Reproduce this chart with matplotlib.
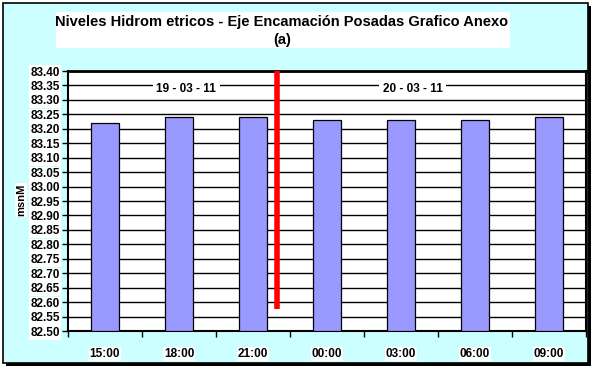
import matplotlib
matplotlib.use("Agg")
import matplotlib.pyplot as plt
from matplotlib.patches import Rectangle

categories = ["15:00", "18:00", "21:00", "00:00", "03:00", "06:00", "09:00"]
levels = [83.22, 83.24, 83.24, 83.23, 83.23, 83.23, 83.24]
y_ticks = [82.50 + 0.05 * i for i in range(19)]
date_labels = ["19 - 03 - 11", "20 - 03 - 11"]
date_label_x = [1.10, 4.16]
date_label_y = 83.338
day_change_x = 2.33
day_change_range = [82.575, 83.40]

plt.rcParams['font.family'] = ['Liberation Sans', 'DejaVu Sans']

W, H = 595, 373
fig = plt.figure(figsize=(W / 100, H / 100), dpi=100)
fig.patch.set_facecolor('white')

# frame with shadow
fig.patches.append(Rectangle((6 / W, (H - 366) / H), 585 / W, 360 / H,
                             transform=fig.transFigure, facecolor='black',
                             edgecolor='none', zorder=-3))
fig.patches.append(Rectangle((3 / W, (H - 363) / H), 585 / W, 360 / H,
                             transform=fig.transFigure, facecolor='#CCFFFF',
                             edgecolor='black', linewidth=1.2, zorder=-2))
# title box
fig.patches.append(Rectangle((56 / W, (H - 48) / H), (510 - 56) / W, 36 / H,
                             transform=fig.transFigure, facecolor='white',
                             edgecolor='none', zorder=-1))

ax = fig.add_axes([68 / W, (H - 331) / H, (586 - 68) / W, (331 - 71) / H])
ax.set_facecolor('white')
x = list(range(len(categories)))
ax.bar(x, [v - 82.50 for v in levels], bottom=82.50, width=0.39,
       color='#9999FF', edgecolor='black', linewidth=0.9, zorder=3)

ax.set_xlim(-0.5, len(categories) - 0.5)
ax.set_ylim(82.50, 83.40)
ax.set_yticks(y_ticks)
ax.set_yticklabels([f"{t:.2f}" for t in y_ticks])
ax.yaxis.grid(True, color='black', linewidth=1.0, zorder=1)
ax.set_axisbelow(True)

ax.set_xticks(x)
ax.set_xticklabels(categories)
ax.set_xticks([i - 0.5 for i in range(len(categories) + 1)], minor=True)
ax.tick_params(axis='x', which='major', length=0, pad=12)
ax.tick_params(axis='x', which='minor', length=4, width=1, direction='out')
ax.tick_params(axis='y', length=4, width=1, direction='out', pad=2)

for lab in ax.get_xticklabels() + ax.get_yticklabels():
    lab.set_fontweight('bold')
    lab.set_fontsize(8.5)
    lab.set_bbox(dict(facecolor='white', edgecolor='none', pad=0.8))

for s in ax.spines.values():
    s.set_linewidth(1.5)
    s.set_color('black')
ax.spines['top'].set_linewidth(2.0)

ax.plot([day_change_x, day_change_x], day_change_range, color='#FF0000',
        linewidth=4, solid_capstyle='butt', zorder=5)

for lx, lt in zip(date_label_x, date_labels):
    ax.text(lx, date_label_y, lt, ha='center', va='center', fontsize=8.5,
            fontweight='bold', zorder=4,
            bbox=dict(facecolor='white', edgecolor='none', pad=2.5))

fig.text(21 / W, 1 - 200 / H, "msnM", rotation=90, ha='center', va='center',
         fontsize=8, fontweight='bold',
         bbox=dict(facecolor='white', edgecolor='none', pad=0.8), zorder=3)

fig.text(282 / W, 1 - 22 / H,
         "Niveles Hidrom etricos - Eje Encamación Posadas Grafico Anexo",
         ha='center', va='center', fontsize=10.5, fontweight='bold', zorder=3)
fig.text(282 / W, 1 - 40 / H, "(a)",
         ha='center', va='center', fontsize=10.5, fontweight='bold', zorder=3)

fig.savefig("out.png", dpi=100)
